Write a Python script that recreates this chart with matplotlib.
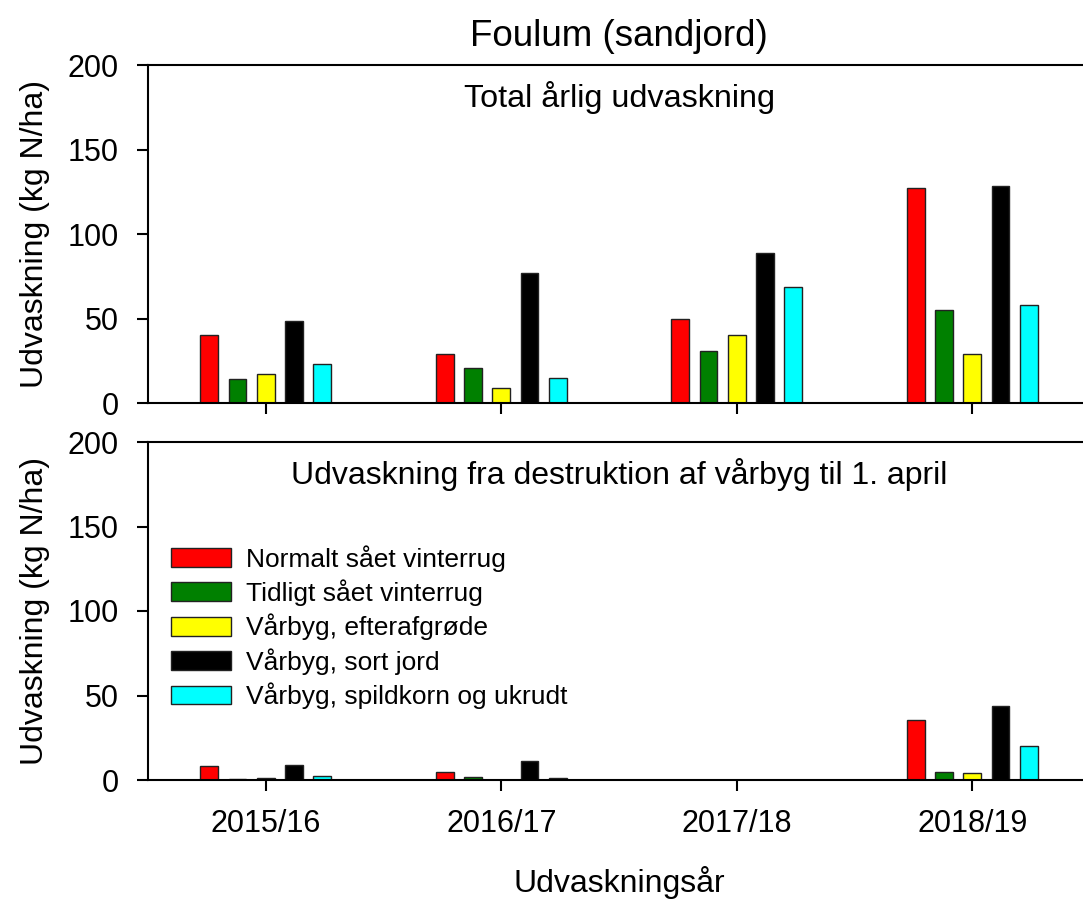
import numpy as np
import matplotlib
matplotlib.use("Agg")
import matplotlib.pyplot as plt

plt.rcParams['font.family'] = ['Liberation Sans', 'DejaVu Sans']

years = ['2015/16', '2016/17', '2017/18', '2018/19']
treatments = ['Normalt sået vinterrug', 'Tidligt sået vinterrug',
              'Vårbyg, efterafgrøde', 'Vårbyg, sort jord',
              'Vårbyg, spildkorn og ukrudt']
colors = ['#ff0000', '#008000', '#ffff00', '#000000', '#00ffff']

# total annual leaching (kg N/ha)
total_normal = [40, 29, 49.5, 127]
total_early = [14, 21, 31, 55]
total_catch = [17, 8.7, 40, 29]
total_black = [48.7, 77, 89, 128.5]
total_volunteer = [23, 14.6, 68.5, 58]

# leaching from destruction of spring barley to 1 April
spring_normal = [8, 5, np.nan, 35.5]
spring_early = [0.7, 2, np.nan, 5]
spring_catch = [1.2, 0, np.nan, 4]
spring_black = [9, 11, np.nan, 44]
spring_volunteer = [2.5, 1.2, np.nan, 20]

total = [total_normal, total_early, total_catch, total_black, total_volunteer]
spring = [spring_normal, spring_early, spring_catch, spring_black, spring_volunteer]

fig = plt.figure(figsize=(10.83, 9), dpi=100)
W, H = 1083, 900
left, right = 148, 1090
ax1 = fig.add_axes([left / W, 1 - 403 / H, (right - left) / W, 338 / H])
ax2 = fig.add_axes([left / W, 1 - 780 / H, (right - left) / W, 338 / H])

x = np.arange(len(years))
width = 0.076
step = 0.12

for ax, data in [(ax1, total), (ax2, spring)]:
    for i, (vals, c) in enumerate(zip(data, colors)):
        ax.bar(x + (i - 2) * step, vals, width, color=c, edgecolor='#222222',
               linewidth=1, label=treatments[i])
    ax.set_xlim(-0.5, 3.5)
    ax.set_ylim(0, 200)
    ax.set_yticks([0, 50, 100, 150, 200])
    ax.set_xticks(x)
    ax.spines['right'].set_visible(False)
    for s in ['left', 'top', 'bottom']:
        ax.spines[s].set_linewidth(1.5)
    ax.tick_params(direction='out', length=8, width=1.5, labelsize=22)
    ax.tick_params(axis='y', pad=13)
    ax.set_ylabel('Udvaskning (kg N/ha)', fontsize=23, labelpad=13)

ax1.set_xticklabels([])
ax2.set_xticklabels(years)
ax2.tick_params(axis='x', pad=13)
ax2.set_xlabel('Udvaskningsår', fontsize=23, labelpad=19)

ax1.set_title('Foulum (sandjord)', fontsize=26.5, pad=14)
ax1.text(0.5, 0.905, 'Total årlig udvaskning', transform=ax1.transAxes,
         ha='center', va='center', fontsize=23.3)
ax2.text(0.5, 0.905, 'Udvaskning fra destruktion af vårbyg til 1. april',
         transform=ax2.transAxes, ha='center', va='center', fontsize=23)

ax2.legend(loc='upper left', bbox_to_anchor=(0.024, 0.695), frameon=False,
           fontsize=19, handlelength=2.3, handleheight=0.72,
           handletextpad=0.55, labelspacing=0.29, borderpad=0, borderaxespad=0)

fig.savefig('out.png', dpi=100)
